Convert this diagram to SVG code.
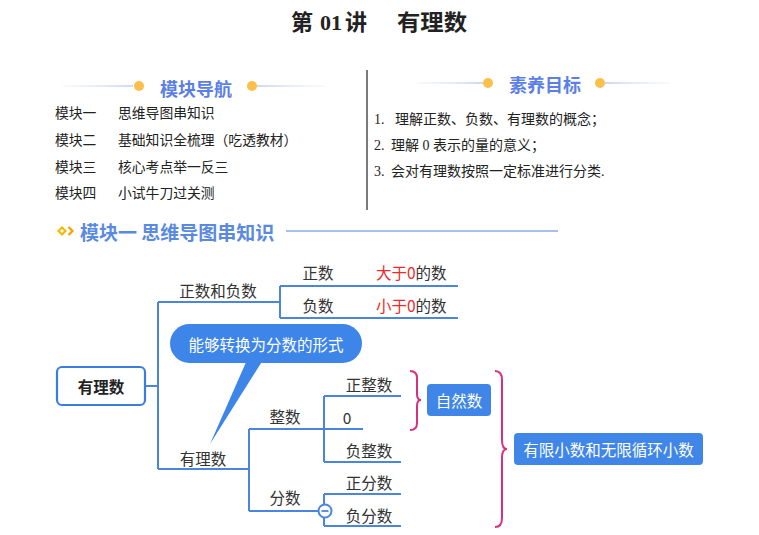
<svg xmlns="http://www.w3.org/2000/svg" width="759" height="535" viewBox="0 0 759 535">
<defs>
<style>
.serif{font-family:"Liberation Serif","Noto Sans CJK SC",serif;fill:#222;}
.hd{font-family:"Noto Sans CJK SC",sans-serif;font-weight:bold;fill:#5b7fe6;}
.mm{font-family:"Noto Sans CJK SC",sans-serif;fill:#333;font-size:15.5px;}
.wt{font-family:"Noto Sans CJK SC",sans-serif;fill:#fff;font-size:15.5px;}
.red{fill:#f02828;}
.ln{stroke:#4a86e0;stroke-width:2;fill:none;}
.br{stroke:#d6307f;stroke-width:2;fill:none;}
.dot{fill:#fbbf4a;}
</style>
<linearGradient id="gl" x1="0" x2="1"><stop offset="0" stop-color="#e8ecf6" stop-opacity="0.3"/><stop offset="1" stop-color="#cfd8f0"/></linearGradient>
<linearGradient id="gr" x1="0" x2="1"><stop offset="0" stop-color="#cfd8f0"/><stop offset="1" stop-color="#e8ecf6" stop-opacity="0.3"/></linearGradient>
</defs>
<rect width="759" height="535" fill="#fff"/>
<g class="serif" font-size="22" font-weight="bold">
<text x="291" y="30">第</text>
<text x="320" y="30">01</text>
<text x="345" y="30">讲</text>
<text x="397" y="30" textLength="70" lengthAdjust="spacingAndGlyphs">有理数</text>
</g>

<g id="nav">
<rect x="63" y="85" width="70" height="2" fill="url(#gl)"/>
<rect x="257" y="85" width="68" height="2" fill="url(#gr)"/>
<circle class="dot" cx="139" cy="86" r="5"/>
<circle class="dot" cx="252" cy="86" r="5"/>
<text x="196" y="88" text-anchor="middle" dominant-baseline="central" class="hd" font-size="18">模块导航</text>
<g class="serif" font-size="13.8">
<text x="55" y="118">模块一</text><text x="118" y="118">思维导图串知识</text>
<text x="55" y="145">模块二</text><text x="118" y="145">基础知识全梳理（吃透教材）</text>
<text x="55" y="172">模块三</text><text x="118" y="172">核心考点举一反三</text>
<text x="55" y="198">模块四</text><text x="118" y="198">小试牛刀过关测</text>
</g>
</g>
<line x1="367" y1="70" x2="367" y2="210" stroke="#222" stroke-width="1.2"/>
<g id="goals">
<rect x="417" y="82" width="66" height="2" fill="url(#gl)"/>
<rect x="605" y="82" width="65" height="2" fill="url(#gr)"/>
<circle class="dot" cx="488" cy="83" r="5"/>
<circle class="dot" cx="600" cy="83" r="5"/>
<text x="545" y="84" text-anchor="middle" dominant-baseline="central" class="hd" font-size="18">素养目标</text>
<g class="serif" font-size="14">
<text x="374" y="124">1.<tspan x="395">理解正数、负数、有理数的概念；</tspan></text>
<text x="374" y="150">2.<tspan x="391">理解 0 表示的量的意义；</tspan></text>
<text x="374" y="176">3.<tspan x="391">会对有理数按照一定标准进行分类.</tspan></text>
</g>
</g>

<g id="section">
<path d="M57 231 L62 226 L67 231 L62 236 Z" fill="#f5b800"/>
<path d="M60 231 L62 229 L64 231 L62 233 Z" fill="#fff"/>
<path d="M68.5 227 L72.5 231 L68.5 235" stroke="#f5a000" stroke-width="2.2" fill="none"/>
<text x="80" y="231" dominant-baseline="central" class="hd" font-size="19" style="fill:#5a8ae0">模块一 思维导图串知识</text>
<line x1="286" y1="231" x2="558" y2="231" stroke="#a9c0ee" stroke-width="2"/>
</g>

<g id="connectors">
<path class="ln" d="M145 386 H158 M158 302 V469 M158 302 H280 M280 286 V318 M280 286 H458 M280 318 H458"/>
<path class="ln" d="M158 469 H249 M249 429 V511 M249 429 H363 M324 396 V462 M324 396 H401 M324 462 H401"/>
<path class="ln" d="M249 511 H318 M324 494 V526 M324 494 H401 M324 526 H401"/>
<path class="br" d="M410 371 Q417 371 417 378 V394 Q417 400 421 400 Q417 400 417 406 V423 Q417 430 410 430"/>
<path class="br" d="M495 371 Q502 371 502 380 V440 Q502 449 507 449 Q502 449 502 458 V518 Q502 527 495 527"/>
</g>

<g id="root">
<rect x="57" y="367" width="88" height="38" rx="5" fill="#fff" stroke="#3a7de0" stroke-width="2.2"/>
<text x="101" y="386" text-anchor="middle" dominant-baseline="central" class="mm" font-weight="bold" font-size="16" style="fill:#222">有理数</text>
</g>
<g id="posneg"><text x="218" y="290" text-anchor="middle" dominant-baseline="central" class="mm">正数和负数</text></g>
<g id="pos"><text x="318" y="272" text-anchor="middle" dominant-baseline="central" class="mm">正数</text></g>
<g id="pos-def"><text x="376" y="272" dominant-baseline="central" class="mm"><tspan class="red">大于0</tspan>的数</text></g>
<g id="neg"><text x="318" y="305" text-anchor="middle" dominant-baseline="central" class="mm">负数</text></g>
<g id="neg-def"><text x="376" y="305" dominant-baseline="central" class="mm"><tspan class="red">小于0</tspan>的数</text></g>

<g id="callout">
<path d="M247 360 L210 444 L263 360 Z" fill="#3d85e8"/>
<rect x="170" y="324" width="192" height="39" rx="19.5" fill="#3d85e8"/>
<text x="266" y="344" text-anchor="middle" dominant-baseline="central" class="wt">能够转换为分数的形式</text>
</g>

<g id="rational"><text x="203" y="458" text-anchor="middle" dominant-baseline="central" class="mm">有理数</text></g>
<g id="integer"><text x="285" y="416" text-anchor="middle" dominant-baseline="central" class="mm">整数</text></g>
<g id="posint"><text x="369" y="384" text-anchor="middle" dominant-baseline="central" class="mm">正整数</text></g>
<g id="zero"><text x="347" y="417" text-anchor="middle" dominant-baseline="central" class="mm">0</text></g>
<g id="negint"><text x="369" y="450" text-anchor="middle" dominant-baseline="central" class="mm">负整数</text></g>
<g id="fraction"><text x="285" y="497" text-anchor="middle" dominant-baseline="central" class="mm">分数</text></g>
<g id="collapse">
<circle cx="325" cy="511" r="6.5" fill="#fff" stroke="#4a86e0" stroke-width="2"/>
<line x1="321.5" y1="511" x2="328.5" y2="511" stroke="#4a86e0" stroke-width="1.8"/>
</g>
<g id="posfrac"><text x="369" y="482" text-anchor="middle" dominant-baseline="central" class="mm">正分数</text></g>
<g id="negfrac"><text x="369" y="515" text-anchor="middle" dominant-baseline="central" class="mm">负分数</text></g>

<g id="natural">
<rect x="427" y="384" width="64" height="32" rx="4" fill="#3f86e8"/>
<text x="459" y="400" text-anchor="middle" dominant-baseline="central" class="wt">自然数</text>
</g>
<g id="decimal">
<rect x="514" y="433" width="189" height="32" rx="4" fill="#3f86e8"/>
<text x="608.5" y="449" text-anchor="middle" dominant-baseline="central" class="wt">有限小数和无限循环小数</text>
</g>
</svg>
